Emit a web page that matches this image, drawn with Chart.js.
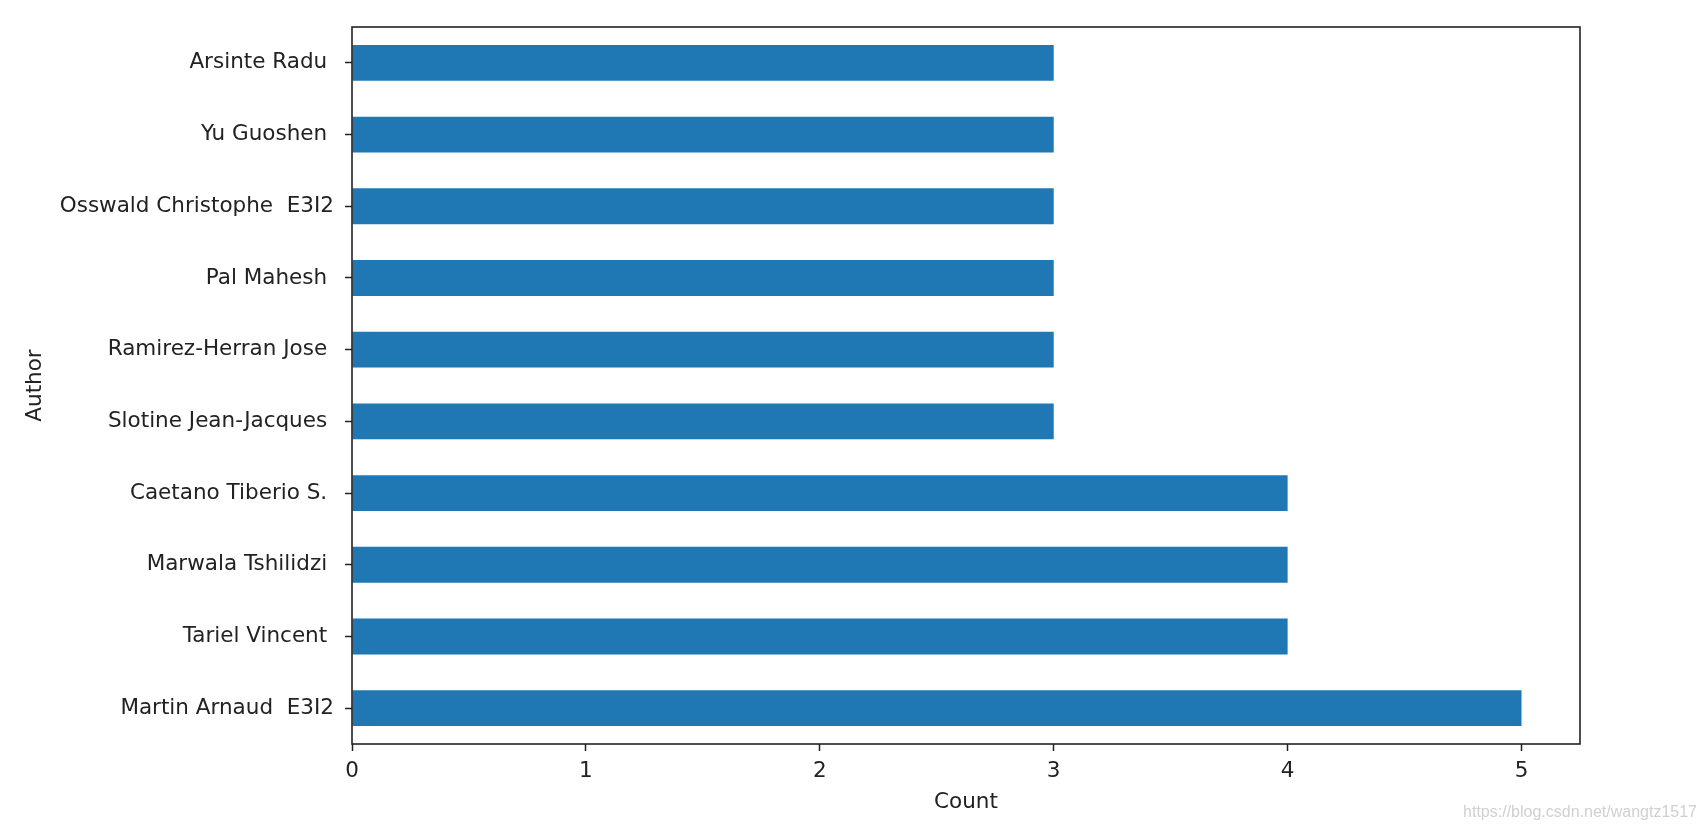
<!DOCTYPE html>
<html>
<head>
<meta charset="utf-8">
<script src="https://cdn.jsdelivr.net/npm/chart.js@4.4.0/dist/chart.umd.min.js"></script>
<style>
body { margin: 0; background: #fff; }
#wrap { position: relative; width: 1706px; height: 829px; }
#mark {
    position: absolute; right: 9px; bottom: 8px;
    font-family: "Liberation Sans", Arial, sans-serif; font-size: 16px; color: #d0d0d0;
}
</style>
</head>
<body>
<div id="wrap">
    <canvas id="myChart" width="1706" height="829"></canvas>
    <div id="mark">https://blog.csdn.net/wangtz1517</div>
</div>
<script>
// authors from bottom to top, like the pandas barh
const authors = [
    "Martin Arnaud  E3I2",
    "Tariel Vincent ",
    "Marwala Tshilidzi ",
    "Caetano Tiberio S. ",
    "Slotine Jean-Jacques ",
    "Ramirez-Herran Jose ",
    "Pal Mahesh ",
    "Osswald Christophe  E3I2",
    "Yu Guoshen ",
    "Arsinte Radu "
];
const counts = [5, 4, 4, 4, 3, 3, 3, 3, 3, 3];
const xMax = 5.25;

const font = { family: "'DejaVu Sans', sans-serif", size: 21.5 };
const ink = "#222";

// box round the plot area (matplotlib spines)
const frame = {
    id: "frame",
    afterDraw(chart) {
        const a = chart.chartArea;
        const ctx = chart.ctx;
        ctx.save();
        ctx.strokeStyle = ink;
        ctx.lineWidth = 1.6;
        ctx.strokeRect(a.left, a.top, a.right - a.left, a.bottom - a.top);
        ctx.restore();
    }
};

new Chart("myChart", {
    type: "bar",
    data: {
        labels: authors,
        datasets: [{
            data: counts,
            backgroundColor: "#1f77b4",
            borderWidth: 0,
            barPercentage: 0.5,
            categoryPercentage: 1.0
        }]
    },
    options: {
        indexAxis: "y",
        responsive: false,
        animation: false,
        layout: { padding: { top: 27, right: 126, left: 0, bottom: 0 } },
        plugins: { legend: { display: false }, tooltip: { enabled: false } },
        scales: {
            x: {
                min: 0,
                max: xMax,
                border: { display: false },
                grid: { drawOnChartArea: false, drawTicks: true, tickLength: 7, tickColor: ink, tickWidth: 1.5 },
                ticks: { stepSize: 1, includeBounds: false, color: ink, font: font, padding: 8, maxRotation: 0 },
                title: { display: true, text: "Count", color: ink, font: font, padding: { top: 0, bottom: 14 } },
                afterFit(scale) { scale.height = 85; }
            },
            y: {
                reverse: true,
                border: { display: false },
                grid: { offset: false, drawOnChartArea: false, drawTicks: true, tickLength: 7, tickColor: ink, tickWidth: 1.5 },
                ticks: { color: ink, font: font, padding: 11, autoSkip: false },
                title: { display: true, text: "Author", color: ink, font: font, padding: { top: 23, bottom: 0 } },
                afterFit(scale) { scale.width = 352; }
            }
        }
    },
    plugins: [frame]
});
</script>
</body>
</html>
